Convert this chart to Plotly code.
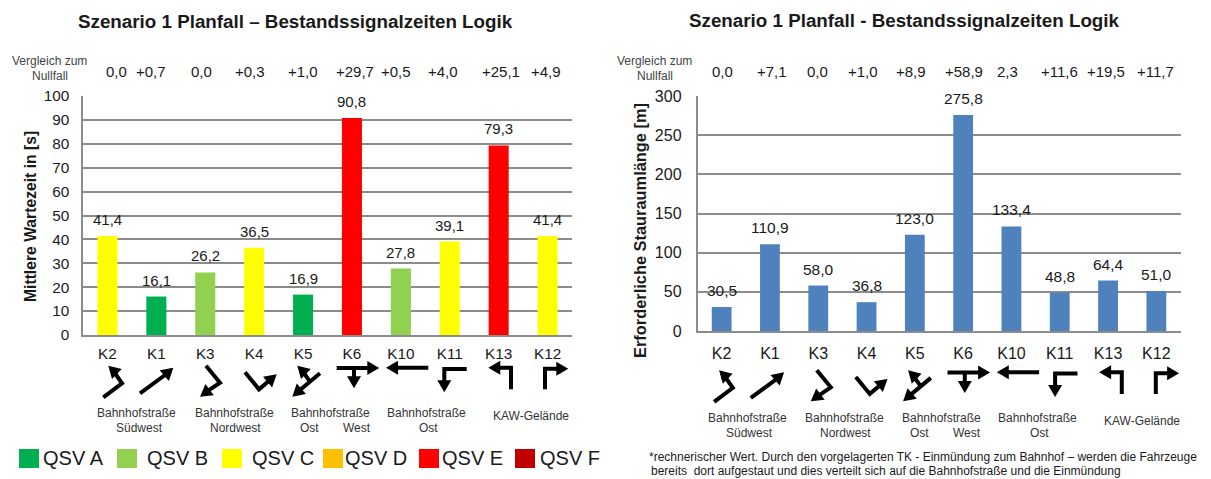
import numpy as np
import plotly.graph_objects as go

W, H = 1211, 479

# ---------- data ----------
categories = ["K2", "K1", "K3", "K4", "K5", "K6", "K10", "K11", "K13", "K12"]
wait_times = [41.4, 16.1, 26.2, 36.5, 16.9, 90.8, 27.8, 39.1, 79.3, 41.4]
wait_qsv = ["C", "A", "B", "C", "A", "E", "B", "C", "E", "C"]
queue_lengths = [30.5, 110.9, 58.0, 36.8, 123.0, 275.8, 133.4, 48.8, 64.4, 51.0]
wait_delta = ["0,0", "+0,7", "0,0", "+0,3", "+1,0", "+29,7", "+0,5", "+4,0", "+25,1", "+4,9"]
queue_delta = ["0,0", "+7,1", "0,0", "+1,0", "+8,9", "+58,9", "2,3", "+11,6", "+19,5", "+11,7"]
qsv_names = ["A", "B", "C", "D", "E", "F"]

# ---------- styles / layout ----------
qsv_colors = dict(A="#00B050", B="#92D050", C="#FFFF00", D="#FFC000", E="#FF0000", F="#C00000")
BLUE = "#4F81BD"
GRID = "#8C8C8C"
TXT = "#1a1a1a"
FONT = "Liberation Sans"

def px(x):
    return x / W

def py(y):
    return 1 - y / H

def note(x, y, text, size, bold=False, color=TXT, anchor="center", angle=0):
    return dict(xref="paper", yref="paper", x=px(x), y=py(y), text=f"<b>{text}</b>" if bold else text,
                showarrow=False, xanchor=anchor, yanchor="middle", textangle=angle, borderpad=0,
                font=dict(family=FONT, size=size, color=color))

fig = go.Figure()
fig.add_bar(x=categories, y=wait_times, marker=dict(color=[qsv_colors[q] for q in wait_qsv], line_width=0),
            xaxis="x", yaxis="y", showlegend=False, width=0.41)
fig.add_bar(x=categories, y=queue_lengths, marker=dict(color=BLUE, line_width=0),
            xaxis="x2", yaxis="y2", showlegend=False, width=0.41)

axis_left = dict(showline=True, linecolor=GRID, linewidth=1.5, ticks="", ticklen=0, automargin=False,
                 tickfont=dict(family=FONT, size=15.3, color=TXT))
axis_right = dict(showline=True, linecolor=GRID, linewidth=1.5, ticks="", ticklen=0, automargin=False,
                  tickfont=dict(family=FONT, size=16, color=TXT))
L_X0, L_X1, L_Y0, L_Y1 = 83, 572, 96, 335
R_X0, R_X1, R_Y0, R_Y1 = 697.5, 1180.5, 96, 331

annotations = []
# value labels, placed from the data
for c, v in zip(categories, wait_times):
    annotations.append(dict(xref="x", yref="y", x=c, y=v, text=f"{v:.1f}".replace(".", ","), showarrow=False,
                            yanchor="bottom", yshift=6, font=dict(family=FONT, size=15, color=TXT)))
for c, v in zip(categories, queue_lengths):
    annotations.append(dict(xref="x2", yref="y2", x=c, y=v, text=f"{v:.1f}".replace(".", ","), showarrow=False,
                            yanchor="bottom", yshift=6, font=dict(family=FONT, size=15.5, color=TXT)))

# titles
annotations.append(note(295.5, 22, "Szenario 1 Planfall – Bestandssignalzeiten Logik", 18.8, bold=True))
annotations.append(note(905, 21, "Szenario 1 Planfall - Bestandssignalzeiten Logik", 18.8, bold=True))
annotations.append(note(31, 217, "Mittlere Wartezeit in [s]", 15.7, bold=True, angle=-90))
annotations.append(note(640, 231, "Erforderliche Staurauml\u00e4nge [m]", 16.4, bold=True, angle=-90))

# comparison rows
left_delta_x = [116.5, 151, 201.8, 250.3, 303, 355, 395.8, 443, 500.6, 545.6]
right_delta_x = [722, 771.5, 817.7, 863, 910.8, 963.8, 1007, 1059, 1106, 1155]
for x, t in zip(left_delta_x, wait_delta):
    annotations.append(note(x, 71, t, 15))
for x, t in zip(right_delta_x, queue_delta):
    annotations.append(note(x, 71, t, 15))
annotations += [note(49, 61, "Vergleich zum", 12, color="#444"), note(50, 76, "Nullfall", 12, color="#444"),
                note(654, 61, "Vergleich zum", 12, color="#444"), note(654.6, 76, "Nullfall", 12, color="#444")]

# street captions
captions = [("Bahnhofstraße", 136, 413), ("Südwest", 139, 428), ("Bahnhofstraße", 234, 413), ("Nordwest", 235.4, 428),
            ("Bahnhofstraße", 330.5, 413), ("Ost", 309, 428), ("West", 357, 428),
            ("Bahnhofstraße", 426, 413), ("Ost", 428, 428), ("KAW-Gelände", 530.7, 416)]
captions_r = [("Bahnhofstraße", 747.7, 418), ("Südwest", 749, 433), ("Bahnhofstraße", 844.6, 418), ("Nordwest", 845.8, 433),
              ("Bahnhofstraße", 941.5, 418), ("Ost", 919.6, 433), ("West", 967, 433),
              ("Bahnhofstraße", 1037, 418), ("Ost", 1039, 433), ("KAW-Gelände", 1142, 421)]
for t, x, y in captions + captions_r:
    annotations.append(note(x, y, t, 12, color="#333"))

# footnote
annotations.append(note(647.5, 456.5, "*rechnerischer Wert. Durch den vorgelagerten TK - Einmündung zum Bahnhof – werden die Fahrzeuge",
                        12, anchor="left"))
annotations.append(note(649.5, 471, "bereits  dort aufgestaut und dies verteilt sich auf die Bahnhofstraße und die Einmündung",
                        12, anchor="left"))

shapes = []
# QSV key
swatch_x = [19, 117, 222, 323, 419, 515]
label_x = [42, 146, 250.5, 344, 441, 539]
for q, sx, lx in zip(qsv_names, swatch_x, label_x):
    shapes.append(dict(type="rect", xref="paper", yref="paper", x0=px(sx), x1=px(sx + 20), y0=py(449), y1=py(468),
                       fillcolor=qsv_colors[q], line_width=0))
    annotations.append(note(lx, 458, f"QSV {q}", 20, anchor="left"))

# turning-movement pictograms (pixel outlines; the right group is the same set shifted)
pictograms = [
    [[(103.3, 397.3), (122, 383.3), (112.7, 370), (108.3, 365.7)]],
    [[(140, 393.3), (165, 375), (173.3, 367.7)]],
    [[(206, 365.7), (220, 382.7), (206.7, 391.7), (200, 396.7)]],
    [[(245, 372.3), (259, 389.3), (270, 380), (276.7, 374.3)]],
    [[(320, 373.3), (300, 390), (292.3, 396.7)], [(310, 381.7), (301.7, 370), (297.3, 365.7)]],
    [[(336.7, 368), (370, 368), (379.3, 368)], [(354, 368), (354, 378), (354, 388.3)]],
    [[(428.3, 367.7), (395, 367.7), (386, 367.7)]],
    [[(466.7, 369), (444.3, 369), (444.3, 383.3), (444.3, 392.3)]],
    [[(511, 389.3), (511, 367.7), (496.7, 367.7), (488.3, 367.7)]],
    [[(545, 389.3), (545, 368.7), (560, 368.7), (568.3, 368.7)]],
]

def arrow_shapes(pts, dx, dy):
    p = np.array(pts, float) + (dx, dy)
    tip = p[-1]
    d = p[-1] - p[-2]
    d /= np.linalg.norm(d)
    n = np.array([-d[1], d[0]])
    base = tip - d * 12
    left, right = base + n * 7, base - n * 7
    path = [(px(a), py(b)) for a, b in p[:-1]] + [(px(base[0]), py(base[1]))]
    line = "M" + " L".join(f"{a:.5f},{b:.5f}" for a, b in path)
    head = "M" + " L".join(f"{px(a):.5f},{py(b):.5f}" for a, b in (tip, left, right)) + " Z"
    return [dict(type="path", xref="paper", yref="paper", path=line, line=dict(color="black", width=4)),
            dict(type="path", xref="paper", yref="paper", path=head, fillcolor="black", line_width=0)]

for (dx, dy) in ((0, 0), (610.8, 4.6)):
    for pic in pictograms:
        for a in pic:
            shapes += arrow_shapes(a, dx, dy)

fig.update_layout(
    width=W, height=H, autosize=False, margin=dict(l=0, r=0, t=0, b=0, pad=0, autoexpand=False),
    paper_bgcolor="white", plot_bgcolor="white", bargap=0.59, showlegend=False,
    font=dict(family=FONT, color=TXT),
    xaxis=dict(domain=[px(L_X0), px(L_X1)], anchor="y", type="category", categoryorder="array",
               categoryarray=categories, ticklabelstandoff=4, range=[-0.5, 9.5], **axis_left),
    yaxis=dict(domain=[py(L_Y1), py(L_Y0)], anchor="x", range=[0, 100], dtick=10, showgrid=True, gridcolor=GRID,
               gridwidth=1.5, ticklabelstandoff=9, zeroline=False, **axis_left),
    xaxis2=dict(domain=[px(R_X0), px(R_X1)], anchor="y2", type="category", categoryorder="array",
                categoryarray=categories, ticklabelstandoff=7, range=[-0.5, 9.5], **axis_right),
    yaxis2=dict(domain=[py(R_Y1), py(R_Y0)], anchor="x2", range=[0, 300], dtick=50, showgrid=True, gridcolor=GRID,
                gridwidth=1.5, ticklabelstandoff=11, zeroline=False, **axis_right),
    annotations=annotations, shapes=shapes,
)

fig.write_html("out.html", config=dict(displayModeBar=False),
               post_script="document.body.style.margin='0';document.body.style.overflow='hidden';")
